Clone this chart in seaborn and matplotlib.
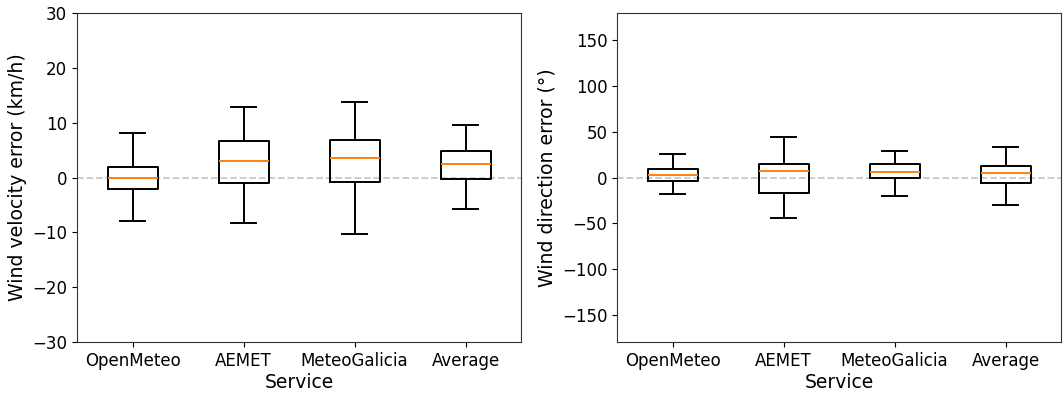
import numpy as np
import pandas as pd
import matplotlib
matplotlib.use("Agg")
import matplotlib.pyplot as plt
import seaborn as sn

# five-number summaries: whisker low, Q1, median, Q3, whisker high
services = ["OpenMeteo", "AEMET", "MeteoGalicia", "Average"]
velocity_openmeteo = [-8.0, -2.1, 0.0, 2.0, 8.2]
velocity_aemet = [-8.3, -1.0, 3.1, 6.6, 12.8]
velocity_meteogalicia = [-10.3, -0.8, 3.6, 6.9, 13.7]
velocity_average = [-5.8, -0.3, 2.4, 4.8, 9.6]
direction_openmeteo = [-17.5, -4.0, 2.6, 9.8, 26.3]
direction_aemet = [-44.0, -17.0, 7.0, 14.6, 44.5]
direction_meteogalicia = [-20.4, -0.3, 6.4, 15.3, 29.2]
direction_average = [-30.2, -5.5, 5.5, 12.8, 33.6]


def make_df(groups):
    rows = []
    for name, vals in zip(services, groups):
        for v in vals:
            rows.append({"Service": name, "value": v})
    return pd.DataFrame(rows)


vel = make_df([velocity_openmeteo, velocity_aemet, velocity_meteogalicia, velocity_average])
dirn = make_df([direction_openmeteo, direction_aemet, direction_meteogalicia, direction_average])

plt.rcParams["font.family"] = ["DejaVu Sans"]

fig = plt.figure(figsize=(10.64, 3.95), dpi=100)
ax1 = fig.add_axes([0.0724, 0.134, 0.4173, 0.833])
ax2 = fig.add_axes([0.580, 0.134, 0.4173, 0.833])


def draw(ax, df, ylabel, ylim, ticks):
    ax.axhline(0, color="#c8c8c8", linestyle="--", linewidth=1.3, zorder=0)
    sn.boxplot(data=df, x="Service", y="value", ax=ax, fill=False, color="black",
               width=0.45, whis=(0, 100), showfliers=False, linewidth=1.4,
               medianprops=dict(color="#ff7f0e", linewidth=1.4))
    ax.set_ylim(*ylim)
    ax.set_yticks(ticks)
    ax.set_xlim(-0.5, 3.5)
    ax.set_ylabel(ylabel, fontsize=13.6)
    ax.set_xlabel("Service", fontsize=13.5, labelpad=2)
    ax.tick_params(labelsize=12)
    for s in ax.spines.values():
        s.set_color("#333333")


draw(ax1, vel, "Wind velocity error (km/h)", (-30, 30), np.arange(-30, 31, 10))
draw(ax2, dirn, "Wind direction error (°)", (-180, 180), np.arange(-150, 151, 50))

fig.savefig("out.png", dpi=100)
